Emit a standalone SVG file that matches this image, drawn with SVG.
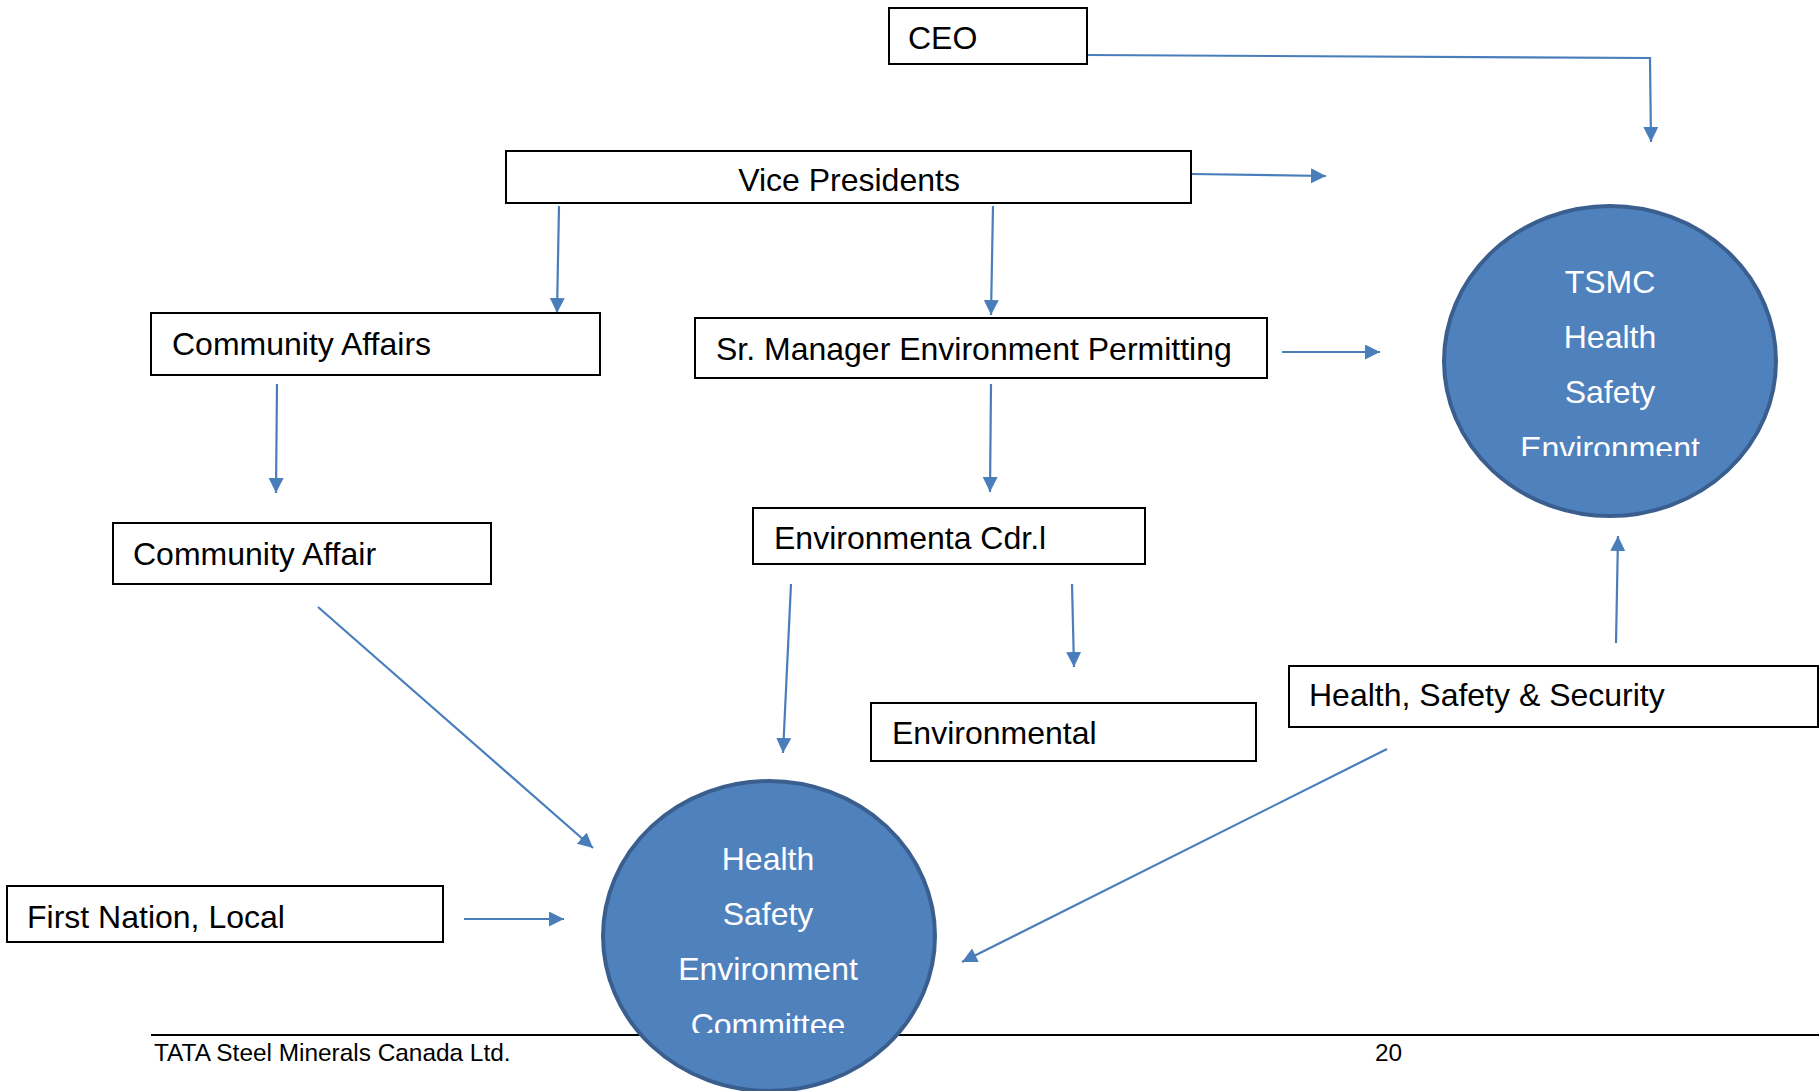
<svg xmlns="http://www.w3.org/2000/svg" width="1819" height="1091" viewBox="0 0 1819 1091">
<style>
.box{fill:#fff;stroke:#000;stroke-width:2}
.t{font-family:"Liberation Sans",Arial,sans-serif;font-size:32px;fill:#000}
.ct{font-family:"Liberation Sans",Arial,sans-serif;font-size:32px;fill:#fff;text-anchor:middle}
.circ{fill:#4F81BD;stroke:#3A5F8F;stroke-width:4}
.c{fill:none;stroke:#4A7EBB;stroke-width:2.2;marker-end:url(#ah)}
.ft{font-family:"Liberation Sans",Arial,sans-serif;font-size:24.4px;fill:#000}
</style>
<defs>
<marker id="ah" markerUnits="userSpaceOnUse" markerWidth="16" markerHeight="16" refX="15" refY="7.5" orient="auto">
<path d="M0,0 L15,7.5 L0,15 Z" fill="#4A7EBB"/>
</marker>
<clipPath id="clipTop"><rect x="1400" y="190" width="420" height="266"/></clipPath>
<clipPath id="clipBot"><rect x="580" y="760" width="400" height="273"/></clipPath>
</defs>
<rect width="1819" height="1091" fill="#fff"/>
<g id="footer">
<line x1="151" y1="1035" x2="1819" y2="1035" stroke="#000" stroke-width="2.2"/>
<text class="ft" x="154" y="1061">TATA Steel Minerals Canada Ltd.</text>
<text class="ft" x="1375" y="1061">20</text>
</g>
<g id="connectors">
<path class="c" d="M1087,55 L1650,58 L1651,142"/>
<path class="c" d="M1191,174 L1326,176"/>
<path class="c" d="M559,206 L557,313"/>
<path class="c" d="M993,206 L991,315"/>
<path class="c" d="M1282,352 L1380,352"/>
<path class="c" d="M277,384 L276,493"/>
<path class="c" d="M991,384 L990,492"/>
<path class="c" d="M791,584 L783,753"/>
<path class="c" d="M1072,584 L1074,667"/>
<path class="c" d="M318,607 L593,848"/>
<path class="c" d="M464,919 L564,919"/>
<path class="c" d="M1387,749 L962,962"/>
<path class="c" d="M1616,643 L1618,536"/>
</g>
<g id="ceo"><rect class="box" x="889" y="8" width="198" height="56"/><text class="t" x="908" y="49">CEO</text></g>
<g id="vp"><rect class="box" x="506" y="151" width="685" height="52"/><text class="t" x="849" y="191" text-anchor="middle">Vice Presidents</text></g>
<g id="community-affairs"><rect class="box" x="151" y="313" width="449" height="62"/><text class="t" x="172" y="355">Community Affairs</text></g>
<g id="sr-manager"><rect class="box" x="695" y="318" width="572" height="60"/><text class="t" x="716" y="360">Sr. Manager Environment Permitting</text></g>
<g id="community-affair"><rect class="box" x="113" y="523" width="378" height="61"/><text class="t" x="133" y="565">Community Affair</text></g>
<g id="env-cdr"><rect class="box" x="753" y="508" width="392" height="56"/><text class="t" x="774" y="549">Environmenta Cdr.l</text></g>
<g id="environmental"><rect class="box" x="871" y="703" width="385" height="58"/><text class="t" x="892" y="744">Environmental</text></g>
<g id="hss"><rect class="box" x="1289" y="666" width="529" height="61"/><text class="t" x="1309" y="706">Health, Safety &amp; Security</text></g>
<g id="first-nation"><rect class="box" x="7" y="886" width="436" height="56"/><text class="t" x="27" y="928">First Nation, Local</text></g>
<g id="tsmc-hse">
<ellipse class="circ" cx="1610" cy="361" rx="166" ry="155"/>
<g clip-path="url(#clipTop)">
<text class="ct" x="1610" y="293">TSMC</text>
<text class="ct" x="1610" y="348">Health</text>
<text class="ct" x="1610" y="403">Safety</text>
<text class="ct" x="1610" y="459">Environment</text>
</g>
</g>
<g id="hse-committee">
<ellipse class="circ" cx="769" cy="936" rx="166" ry="155"/>
<g clip-path="url(#clipBot)">
<text class="ct" x="768" y="870">Health</text>
<text class="ct" x="768" y="925">Safety</text>
<text class="ct" x="768" y="980">Environment</text>
<text class="ct" x="768" y="1036">Committee</text>
</g>
</g>
</svg>
